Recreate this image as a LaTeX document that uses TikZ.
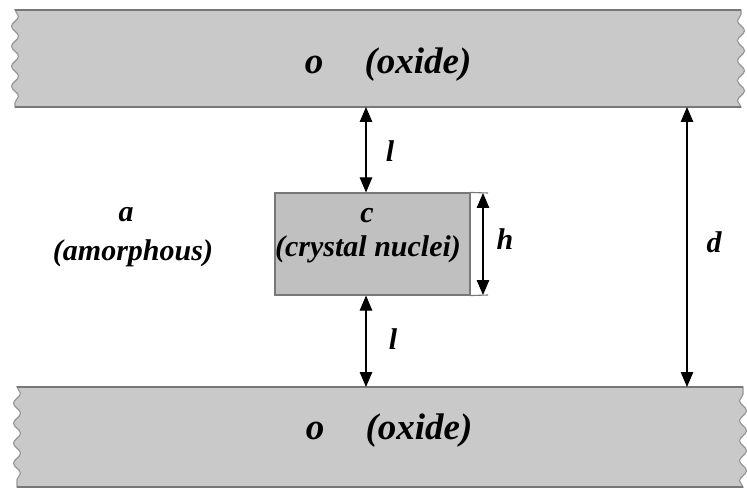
\documentclass[tikz,border=0pt]{standalone}
\usepackage{fontspec}
\setmainfont{Liberation Serif}
\usetikzlibrary{arrows.meta,decorations.pathmorphing}
\definecolor{bandgray}{RGB}{201,201,201}
\definecolor{boxgray}{RGB}{192,192,192}
\definecolor{edgegray}{RGB}{120,120,120}
\definecolor{wavegray}{RGB}{150,150,150}
\tikzset{
  band/.style={fill=bandgray, draw=wavegray, line width=1.1pt},
  wavy/.style={decorate, decoration={snake, amplitude=3.5pt, segment length=20pt}},
  nucleus/.style={fill=boxgray, draw=edgegray, line width=1.1pt, minimum width=195pt, minimum height=102pt, inner sep=0pt},
  dimarrow/.style={line width=1.1pt, {Triangle[length=15pt,width=12.5pt]}-{Triangle[length=15pt,width=12.5pt]}},
  biglabel/.style={font=\fontsize{37}{40}\selectfont\bfseries\itshape, anchor=base},
  label/.style={font=\fontsize{30}{33}\selectfont\bfseries\itshape, anchor=base},
}
\begin{document}
\begin{tikzpicture}[x=1pt,y=-1pt]
\useasboundingbox (0,0) rectangle (747,489);
% top oxide band
\path[band] (741,10) -- (15,10) decorate[wavy]{ -- (15,107)} -- (741,107) decorate[wavy]{ -- (741,10)} -- cycle;
% bottom oxide band
\path[band] (743,387) -- (17,387) decorate[wavy]{ -- (17,487)} -- (743,487) decorate[wavy]{ -- (743,387)} -- cycle;
\draw[edgegray, line width=1.4pt] (15,10) -- (741,10) (15,107) -- (741,107);
\draw[edgegray, line width=1.4pt] (17,387) -- (743,387) (17,487) -- (743,487);
% named points on band edges
\coordinate (topL) at (366,107);
\coordinate (botL) at (366,387);
\coordinate (topD) at (687,107);
\coordinate (botD) at (687,387);
% crystal nucleus
\node[nucleus] (c) at (372.5,244) {};
\coordinate (hT) at (488,193);
\coordinate (hB) at (488,295);
\draw[edgegray, line width=1.1pt] (c.north east) -- (hT);
\draw[edgegray, line width=1.1pt] (c.south east) -- (hB);
\coordinate (hTa) at (483,193);
\coordinate (hBa) at (483,295);
% arrows
\draw[dimarrow] (topL) -- (topL |- c.north);
\draw[dimarrow] (botL |- c.south) -- (botL);
\draw[dimarrow] (hTa) -- (hBa);
\draw[dimarrow] (topD) -- (botD);
% texts
\node[biglabel] (o1) at (314,74) {o};
\node[biglabel] (ox1) at (418,74) {(oxide)};
\node[biglabel] (o2) at (315,439) {o};
\node[biglabel] (ox2) at (419,439) {(oxide)};
\node[label] (l1) at (390,162) {l};
\node[label] (l2) at (393,349) {l};
\node[label] (hl) at (505,249) {h};
\node[label] (dl) at (714,253) {d};
\node[label] (al) at (126,222) {a};
\node[label] (aml) at (133,260) {(amorphous)};
\node[label] (cl) at (367,223) {c};
\node[label] (cnl) at (368,257) {(crystal nuclei)};
\end{tikzpicture}
\end{document}
